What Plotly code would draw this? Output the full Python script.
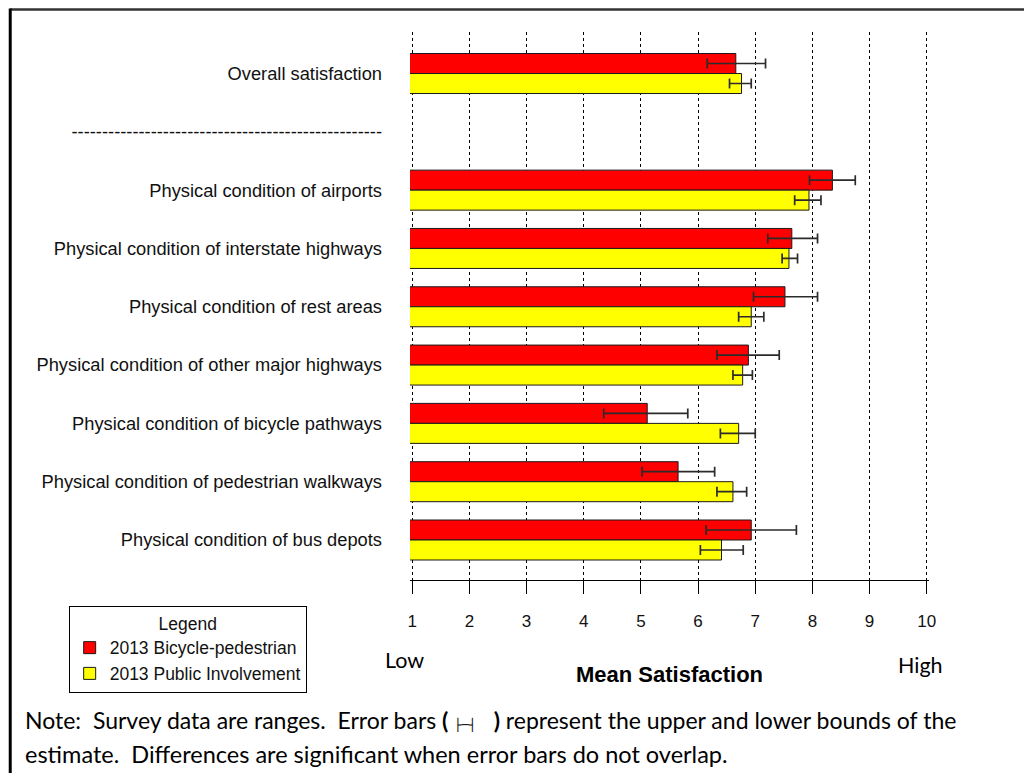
import plotly.graph_objects as go

# ---------------- data ----------------
SEP = "-" * 51
row_labels = [
    "Overall satisfaction",
    SEP,
    "Physical condition of airports",
    "Physical condition of interstate highways",
    "Physical condition of rest areas",
    "Physical condition of other major highways",
    "Physical condition of bicycle pathways",
    "Physical condition of pedestrian walkways",
    "Physical condition of bus depots",
]
bike_ped_mean = [6.66, None, 8.35, 7.64, 7.52, 6.88, 5.11, 5.65, 6.93]
bike_ped_low = [6.16, None, 7.95, 7.22, 6.97, 6.33, 4.35, 5.02, 6.14]
bike_ped_high = [7.18, None, 8.75, 8.09, 8.09, 7.42, 5.82, 6.29, 7.72]
public_mean = [6.76, None, 7.94, 7.59, 6.93, 6.78, 6.71, 6.61, 6.41]
public_low = [6.55, None, 7.69, 7.47, 6.71, 6.61, 6.39, 6.33, 6.04]
public_high = [6.93, None, 8.15, 7.74, 7.15, 6.95, 7.00, 6.85, 6.79]
x_ticks = [1, 2, 3, 4, 5, 6, 7, 8, 9, 10]
series_names = ["2013 Bicycle-pedestrian", "2013 Public Involvement"]

# ---------------- layout helpers (screen pixel coords) ----------------
W, H = 1032, 773
OFF = 8                      # page body margin
X_LO, X_HI = 0.96, 10.04     # tiny padding so edge gridlines are drawn
UNIT = (927 - 412) / 9.0
L = 412 - (1 - X_LO) * UNIT
R = 927 + (X_HI - 10) * UNIT
T, B = 32, 580


def px(x):
    return (x - L) / (R - L)


def py(y):
    return 1 - (y - T) / (B - T)


def plus(m, h):
    return [None if a is None else b - a for a, b in zip(m, h)]


def minus(m, lo):
    return [None if a is None else a - b for a, b in zip(m, lo)]


slots = list(range(len(row_labels)))
ARIAL = "Liberation Sans, Arial, sans-serif"
CAL = "Lato, Carlito, Calibri, sans-serif"

fig = go.Figure()
for name, mean, lo, hi, col in [
    (series_names[0], bike_ped_mean, bike_ped_low, bike_ped_high, "#ff0000"),
    (series_names[1], public_mean, public_low, public_high, "#ffff00"),
]:
    fig.add_trace(go.Bar(
        name=name, y=slots, x=mean, orientation="h",
        marker=dict(color=col, line=dict(color="#1a1a1a", width=1)),
        error_x=dict(type="data", symmetric=False, array=plus(mean, hi),
                     arrayminus=minus(mean, lo), color="#2b2b2b",
                     thickness=1.7, width=5),
    ))

fig.update_layout(
    width=W, height=H,
    margin=dict(l=L - OFF, r=W - (R - OFF), t=T - OFF, b=H - (B - OFF), autoexpand=False),
    paper_bgcolor="white", plot_bgcolor="white",
    barmode="group", bargap=0.314, bargroupgap=0,
    font=dict(family=ARIAL, color="black"),
    showlegend=True,
    legend=dict(
        x=px(68), y=py(606), xanchor="left", yanchor="top",
        bordercolor="black", borderwidth=1, bgcolor="white",
        font=dict(family=ARIAL, size=17.5, color="#111"),
        title=dict(text="Legend", side="top center", font=dict(family=ARIAL, size=17.5)),
        traceorder="normal",
    ),
    xaxis=dict(
        range=[X_LO, X_HI], tickvals=x_ticks, showgrid=True, gridcolor="black",
        griddash="dot", gridwidth=1, showline=True, linecolor="black", linewidth=1,
        ticks="outside", ticklen=13, tickcolor="black", tickwidth=1,
        tickfont=dict(family=ARIAL, size=17, color="#111"), ticklabelstandoff=13,
        zeroline=False,
        title=dict(text="<b>Mean Satisfaction</b>", font=dict(family=ARIAL, size=22),
                   standoff=36),
    ),
    yaxis=dict(
        range=[8.686, -0.712], tickvals=slots, ticktext=row_labels,
        showgrid=False, zeroline=False, showline=False, ticks="",
        tickfont=dict(family=ARIAL, size=18.3, color="#111"), ticklabelstandoff=27,
    ),
)

fig.add_annotation(text="Low", xref="paper", yref="paper", x=px(383), y=py(660),
                   xanchor="left", yanchor="middle", showarrow=False,
                   font=dict(family=CAL, size=21.5, color="black"))
fig.add_annotation(text="High", xref="paper", yref="paper", x=px(896), y=py(665),
                   xanchor="left", yanchor="middle", showarrow=False,
                   font=dict(family=CAL, size=21.5, color="black"))
sp = "\u00a0"
line1 = ("Note:" + sp * 2 + "Survey data are ranges." + sp * 2 + "Error bars <b>(</b>" + sp
         + "<span style='font-family:DejaVu Sans Mono;font-size:12px'>\u251c\u2500\u2524</span>"
         + sp * 3 + "<b>)</b> represent the upper and lower bounds of the")
line2 = "estimate." + sp * 2 + "Differences are significant when error bars do not overlap."
fig.add_annotation(text=line1, xref="paper", yref="paper", x=px(22), y=py(720),
                   xanchor="left", yanchor="middle", showarrow=False,
                   font=dict(family=CAL, size=23, color="black"))
fig.add_annotation(text=line2, xref="paper", yref="paper", x=px(22), y=py(754),
                   xanchor="left", yanchor="middle", showarrow=False,
                   font=dict(family=CAL, size=23.5, color="black"))

# page frame (as close to the page edge as the figure allows)
fig.add_shape(type="line", xref="paper", yref="paper", x0=px(9.5), x1=px(1045),
              y0=py(9.5), y1=py(9.5), line=dict(color="#333", width=2.5))
fig.add_shape(type="line", xref="paper", yref="paper", x0=px(9.5), x1=px(9.5),
              y0=py(8.5), y1=py(790), line=dict(color="black", width=3))

fig.write_html("out.html")
